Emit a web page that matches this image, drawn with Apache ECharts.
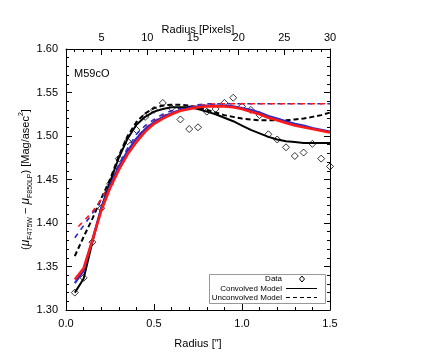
<!DOCTYPE html>
<html>
<head>
<meta charset="utf-8">
<script src="https://cdn.jsdelivr.net/npm/echarts@6/dist/echarts.min.js"></script>
<style>
  html, body { margin: 0; padding: 0; background: #fff; }
  #chart { width: 425px; height: 354px; }
</style>
</head>
<body>
<div id="chart"></div>
<script>
// radius in arcsec
const radius = [0.05, 0.10, 0.15, 0.20, 0.25, 0.30, 0.35, 0.40, 0.45, 0.50,
  0.55, 0.60, 0.65, 0.70, 0.75, 0.80, 0.85, 0.90, 0.95, 1.00,
  1.05, 1.10, 1.15, 1.20, 1.25, 1.30, 1.35, 1.40, 1.45, 1.50]

// measured colour (diamonds)
const dataColor = [1.320, 1.337, 1.378, 1.417, 1.445, 1.474, 1.494, 1.507, 1.522, 1.530,
  1.538, 1.532, 1.519, 1.508, 1.510, 1.528, 1.531, 1.538, 1.544, 1.534,
  1.530, 1.524, 1.502, 1.496, 1.487, 1.477, 1.481, 1.491, 1.474, 1.465]

// model 1 (black)
const blackConv = [1.320, 1.336, 1.378, 1.417, 1.447, 1.475, 1.497, 1.513, 1.522, 1.528,
  1.531, 1.533, 1.533, 1.533, 1.531, 1.528, 1.525, 1.521, 1.517, 1.512,
  1.507, 1.503, 1.499, 1.496, 1.494, 1.493, 1.492, 1.492, 1.492, 1.492]
const blackUnconv = [1.362, 1.384, 1.405, 1.428, 1.450, 1.477, 1.500, 1.516, 1.526, 1.532,
  1.535, 1.536, 1.536, 1.535, 1.533, 1.530, 1.527, 1.524, 1.522, 1.520,
  1.519, 1.518, 1.518, 1.518, 1.518, 1.519, 1.520, 1.522, 1.524, 1.527]

// model 2 (blue)
const blueConv = [1.331, 1.345, 1.381, 1.417, 1.443, 1.465, 1.483, 1.497, 1.508, 1.516,
  1.522, 1.526, 1.530, 1.532, 1.534, 1.535, 1.535, 1.535, 1.534, 1.532,
  1.530, 1.527, 1.523, 1.520, 1.517, 1.514, 1.512, 1.509, 1.507, 1.505]
const blueUnconv = [1.383, 1.397, 1.411, 1.427, 1.446, 1.467, 1.486, 1.502, 1.512, 1.519,
  1.525, 1.529, 1.532, 1.534, 1.536, 1.537, 1.537, 1.537, 1.537, 1.537,
  1.537, 1.537, 1.537, 1.537, 1.537, 1.537, 1.537, 1.537, 1.537, 1.537]

// model 3 (red)
const redConv = [1.335, 1.348, 1.380, 1.414, 1.440, 1.461, 1.479, 1.493, 1.505, 1.514,
  1.520, 1.525, 1.529, 1.531, 1.533, 1.534, 1.534, 1.534, 1.533, 1.531,
  1.528, 1.525, 1.521, 1.518, 1.515, 1.512, 1.510, 1.508, 1.506, 1.504]
const redUnconv = [1.392, 1.402, 1.413, 1.427, 1.445, 1.465, 1.483, 1.498, 1.509, 1.517,
  1.523, 1.527, 1.530, 1.533, 1.535, 1.536, 1.537, 1.537, 1.537, 1.537,
  1.537, 1.537, 1.537, 1.537, 1.537, 1.537, 1.537, 1.537, 1.537, 1.537]

// top axis (pixels)
const pixelLabels = [5, 10, 15, 20, 25, 30]
const pixelMinor = [2, 3, 4, 6, 7, 8, 9, 11, 12, 13, 14, 16, 17, 18, 19,
  21, 22, 23, 24, 26, 27, 28, 29]

const FONT = 'Liberation Sans'

function pairs(ys) {
  return radius.map((r, i) => [r, ys[i]])
}

function lineSeries(ys, color, width, type, z, offset) {
  return {
    type: 'line',
    xAxisIndex: 0,
    yAxisIndex: 0,
    data: pairs(ys),
    symbol: 'none',
    z: z,
    lineStyle: {
      color: color,
      width: width,
      type: type,
      dashOffset: offset || 0
    },
    animation: false
  }
}

let myChart = echarts.init(document.getElementById('chart'))

let option = {
  animation: false,
  title: {
    text: 'M59cO',
    left: 69,
    top: 63,
    textStyle: { fontFamily: FONT, fontSize: 11, fontWeight: 'normal', color: '#000' }
  },
  grid: {
    left: 66,
    right: 95,
    top: 49,
    bottom: 43
  },
  xAxis: [
    {
      type: 'value',
      position: 'bottom',
      min: 0,
      max: 1.5,
      interval: 0.5,
      name: 'Radius [\u2033]',
      nameLocation: 'middle',
      nameGap: 28,
      nameMoveOverlap: false,
      nameTextStyle: { fontFamily: FONT, fontSize: 11, color: '#000' },
      axisLine: { lineStyle: { color: '#000', width: 1 } },
      axisTick: { inside: true, length: 6, lineStyle: { color: '#000' } },
      minorTick: { show: true, splitNumber: 5, length: 3, lineStyle: { color: '#000' } },
      axisLabel: {
        fontFamily: FONT, fontSize: 11, color: '#000', margin: 8,
        formatter: v => v.toFixed(1)
      },
      splitLine: { show: false }
    },
    {
      type: 'value',
      position: 'top',
      min: 1.1,
      max: 30,
      name: 'Radius [Pixels]',
      nameLocation: 'middle',
      nameGap: 14,
      nameMoveOverlap: false,
      nameTextStyle: { fontFamily: FONT, fontSize: 11, color: '#000' },
      axisLine: { lineStyle: { color: '#000', width: 1 } },
      axisTick: {
        inside: true, length: 6, lineStyle: { color: '#000' },
        customValues: pixelLabels
      },
      axisLabel: {
        fontFamily: FONT, fontSize: 11, color: '#000', margin: 6,
        customValues: pixelLabels
      },
      splitLine: { show: false }
    },
    {
      type: 'value',
      position: 'top',
      min: 1.1,
      max: 30,
      axisLine: { show: false },
      axisTick: {
        inside: true, length: 3, lineStyle: { color: '#000' },
        customValues: pixelMinor
      },
      axisLabel: { show: false },
      splitLine: { show: false }
    }
  ],
  yAxis: [
    {
      type: 'value',
      position: 'left',
      min: 1.3,
      max: 1.6,
      interval: 0.05,
      name: '{p|(}{mu|\u03bc}{sub|F475W}{p| \u2212 }{mu|\u03bc}{sub|F850LP}{p|) [Mag/asec}{sup|2}{p|]}',
      nameLocation: 'middle',
      nameGap: 32,
      nameMoveOverlap: false,
      nameTextStyle: {
        fontFamily: FONT,
        fontSize: 11,
        color: '#000',
        rich: {
          p: { fontFamily: FONT, fontSize: 11, color: '#000', lineHeight: 16, verticalAlign: 'middle' },
          mu: { fontFamily: FONT, fontSize: 12, fontStyle: 'italic', color: '#000', lineHeight: 16, verticalAlign: 'middle' },
          sub: { fontFamily: FONT, fontSize: 7, color: '#000', lineHeight: 8, verticalAlign: 'bottom' },
          sup: { fontFamily: FONT, fontSize: 7, color: '#000', lineHeight: 8, verticalAlign: 'top' }
        }
      },
      axisLine: { show: true, lineStyle: { color: '#000', width: 1 } },
      axisTick: { show: true, inside: true, length: 6, lineStyle: { color: '#000' } },
      minorTick: { show: true, splitNumber: 5, length: 3, lineStyle: { color: '#000' } },
      axisLabel: {
        fontFamily: FONT, fontSize: 11, color: '#000', margin: 8,
        formatter: v => v.toFixed(2)
      },
      splitLine: { show: false }
    },
    {
      type: 'value',
      position: 'right',
      min: 1.3,
      max: 1.6,
      interval: 0.05,
      axisLine: { show: true, lineStyle: { color: '#000', width: 1 } },
      axisTick: { show: true, inside: true, length: 6, lineStyle: { color: '#000' } },
      minorTick: { show: true, splitNumber: 5, length: 3, lineStyle: { color: '#000' } },
      axisLabel: { show: false },
      splitLine: { show: false }
    }
  ],
  series: [
    {
      name: 'Data',
      type: 'scatter',
      xAxisIndex: 0,
      yAxisIndex: 0,
      data: pairs(dataColor),
      symbol: 'diamond',
      symbolSize: 7,
      z: 1,
      itemStyle: { color: 'rgba(255,255,255,0)', borderColor: '#000', borderWidth: 1 }
    },
    lineSeries(blackUnconv, '#000', 2, [5, 3], 2),
    lineSeries(blueUnconv, '#2a2ac8', 1.6, [5, 5], 3, 0),
    lineSeries(redUnconv, '#ff1a1a', 1.6, [5, 5], 4, 5),
    lineSeries(blackConv, '#000', 2, 'solid', 5),
    lineSeries(blueConv, '#2a2ac8', 2.2, 'solid', 6),
    lineSeries(redConv, '#ff1a1a', 2.6, 'solid', 7)
  ],
  graphic: [
    {
      type: 'rect',
      shape: { x: 209.5, y: 274.5, width: 116, height: 29 },
      style: { fill: '#fff', stroke: '#999', lineWidth: 1 },
      z: 100
    },
    {
      type: 'text', x: 282, y: 279, z: 101,
      style: { text: 'Data', fontFamily: FONT, fontSize: 8, fill: '#000', align: 'right', verticalAlign: 'middle' }
    },
    {
      type: 'text', x: 282, y: 288.5, z: 101,
      style: { text: 'Convolved Model', fontFamily: FONT, fontSize: 8, fill: '#000', align: 'right', verticalAlign: 'middle' }
    },
    {
      type: 'text', x: 282, y: 297.5, z: 101,
      style: { text: 'Unconvolved Model', fontFamily: FONT, fontSize: 8, fill: '#000', align: 'right', verticalAlign: 'middle' }
    },
    {
      type: 'polygon', z: 101,
      shape: { points: [[302, 276], [304.5, 279], [302, 282], [299.5, 279]] },
      style: { fill: 'none', stroke: '#000', lineWidth: 1 }
    },
    {
      type: 'line', z: 101,
      shape: { x1: 286, y1: 288.5, x2: 317, y2: 288.5 },
      style: { stroke: '#000', lineWidth: 1 }
    },
    {
      type: 'line', z: 101,
      shape: { x1: 286, y1: 297.5, x2: 317, y2: 297.5 },
      style: { stroke: '#000', lineWidth: 1, lineDash: [4, 3] }
    }
  ]
}

myChart.setOption(option)
</script>
</body>
</html>
